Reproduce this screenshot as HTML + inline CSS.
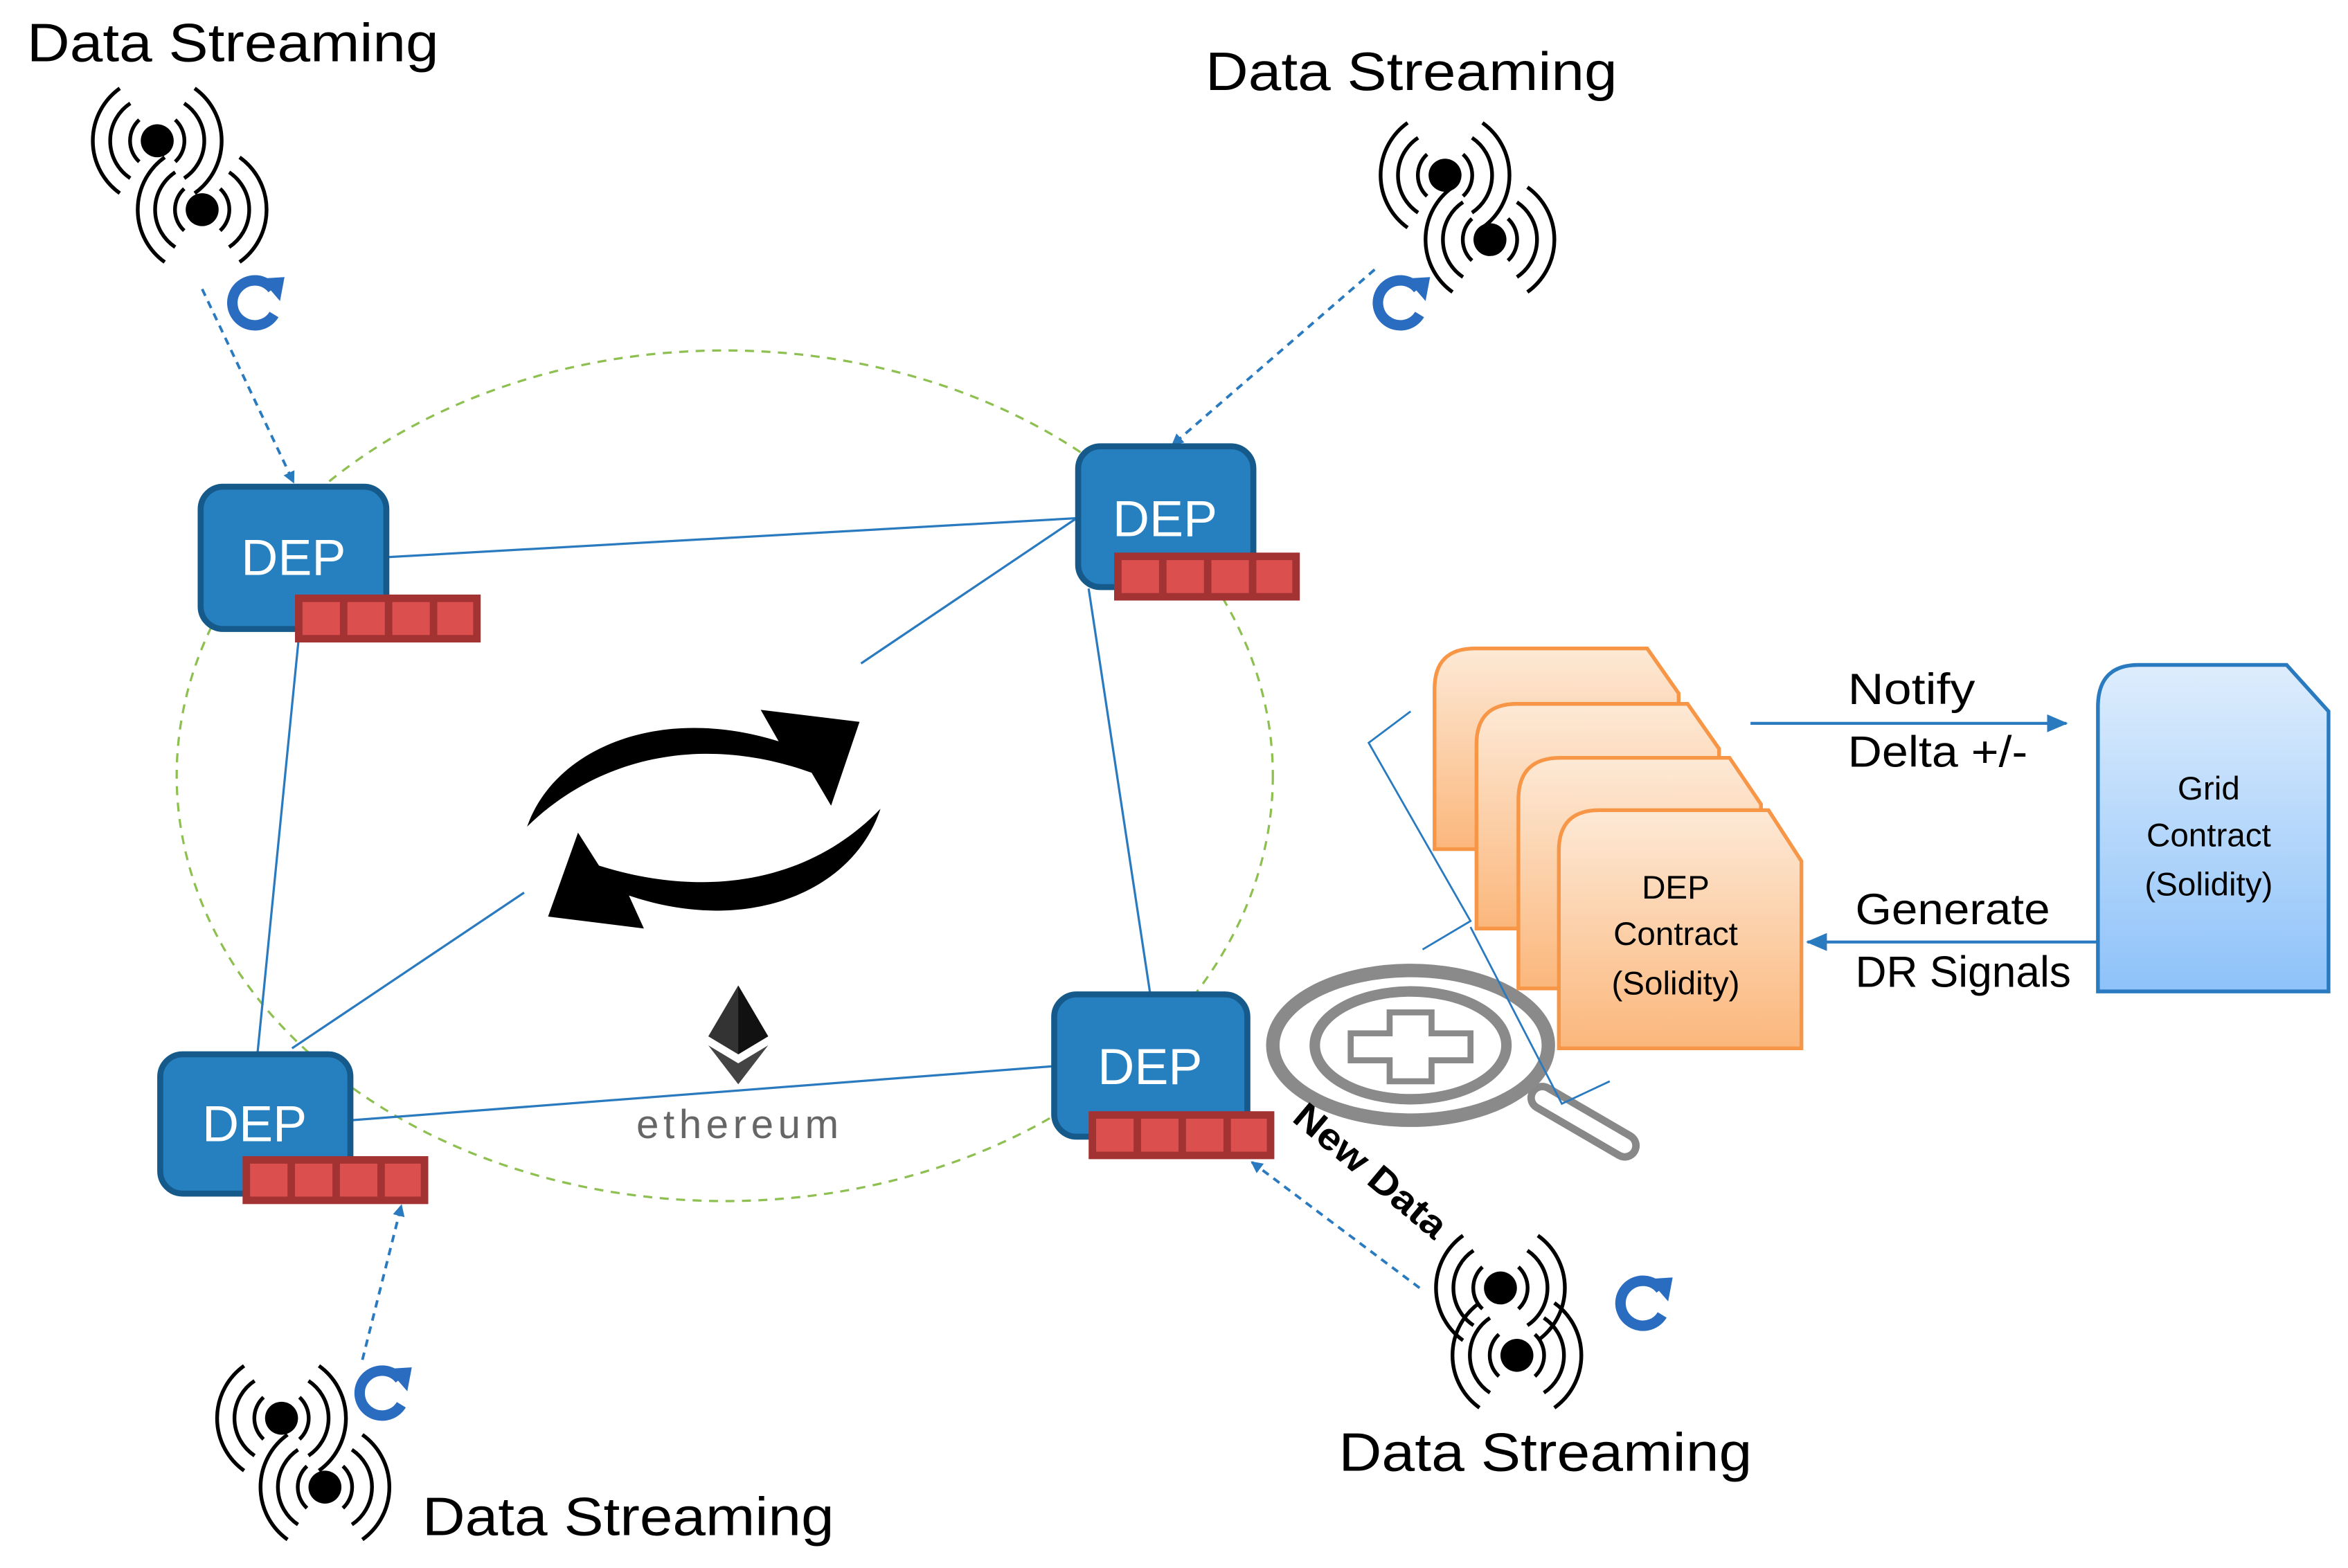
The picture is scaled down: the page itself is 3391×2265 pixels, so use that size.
<!DOCTYPE html>
<html><head><meta charset="utf-8"><style>
html,body{margin:0;padding:0;background:#fff;}
svg{display:block;}
text{font-family:"Liberation Sans",sans-serif;}
</style></head><body>
<svg width="3391" height="2265" viewBox="0 0 1568 1047" preserveAspectRatio="none" xmlns="http://www.w3.org/2000/svg">
<defs>
<marker id="ah" markerWidth="8" markerHeight="8" refX="7" refY="4" orient="auto" markerUnits="userSpaceOnUse"><path d="M0,0 L8,4 L0,8 Z" fill="#2a7ac0"/></marker>
<marker id="ah2" markerWidth="14" markerHeight="12" refX="13" refY="6" orient="auto" markerUnits="userSpaceOnUse"><path d="M0,0 L14,6 L0,12 Z" fill="#2a7ac0"/></marker>
<linearGradient id="og" x1="0" y1="0" x2="0" y2="1"><stop offset="0" stop-color="#fde9d6"/><stop offset="1" stop-color="#fbb77c"/></linearGradient>
<linearGradient id="bg" x1="0" y1="0" x2="0" y2="1"><stop offset="0" stop-color="#deedfd"/><stop offset="1" stop-color="#8ec2f9"/></linearGradient>
<g id="dot">
<circle r="11" fill="#000"/>
<g fill="none" stroke="#000" stroke-width="2.5">
<path d="M-12,-14 A19,19 0 0 0 -12,14"/><path d="M12,-14 A19,19 0 0 1 12,14"/>
<path d="M-18,-25 A30,30 0 0 0 -18,25"/><path d="M18,-25 A30,30 0 0 1 18,25"/>
<path d="M-25,-35 A43,43 0 0 0 -25,35"/><path d="M25,-35 A43,43 0 0 1 25,35"/>
</g></g>
<g id="ref">
<path d="M12,-9 A15,15 0 1 0 13,8" fill="none" stroke="#2a6cc0" stroke-width="7"/>
<path d="M4,-16 L20,-17 L17,-1 Z" fill="#2a6cc0"/>
</g>
<g id="q">
<rect x="0" y="0" width="124" height="32" fill="#a33232"/>
<rect x="5" y="5" width="25" height="22" fill="#dc4f4f"/>
<rect x="35" y="5" width="25" height="22" fill="#dc4f4f"/>
<rect x="65" y="5" width="25" height="22" fill="#dc4f4f"/>
<rect x="95" y="5" width="24" height="22" fill="#dc4f4f"/>
</g>
</defs>

<ellipse cx="484" cy="518" rx="366" ry="284" fill="none" stroke="#8dc050" stroke-width="1.5" stroke-dasharray="6,5"/>

<g stroke="#2a7ac0" stroke-width="1.5" fill="none">
<line x1="259" y1="372" x2="719" y2="346"/>
<line x1="200" y1="421" x2="172" y2="703"/>
<line x1="727" y1="393" x2="768" y2="663"/>
<line x1="235" y1="748" x2="703" y2="712"/>
<line x1="719" y1="346" x2="575" y2="443"/>
<line x1="195" y1="700" x2="350" y2="596"/>
</g>

<g stroke="#2a7ac0" stroke-width="1.8" fill="none" stroke-dasharray="5,4">
<line x1="135" y1="193" x2="196" y2="322" marker-end="url(#ah)"/>
<line x1="918" y1="180" x2="783" y2="297" marker-end="url(#ah)"/>
<line x1="242" y1="908" x2="268" y2="805" marker-end="url(#ah)"/>
<line x1="948" y1="860" x2="836" y2="776" marker-end="url(#ah)"/>
</g>

<path d="M352,552 C370,500 440,470 520,495 L508,474 L574,482 L555,538 L542,516 C470,490 400,505 352,552 Z" fill="#000"/>
<path d="M588,540 C570,595 500,625 420,598 L430,620 L366,612 L386,556 L400,578 C470,600 540,590 588,540 Z" fill="#000"/>

<path d="M493,658 L513,692 L493,704 L473,692 Z" fill="#333"/>
<path d="M493,658 L513,692 L493,704 Z" fill="#111"/>
<path d="M473,698 L493,710 L513,698 L493,724 Z" fill="#444"/>
<text x="494" y="760" font-size="27" fill="#666" text-anchor="middle" letter-spacing="3">ethereum</text>

<g>
<rect x="134" y="325" width="124" height="95" rx="15" fill="#2680c0" stroke="#155a8a" stroke-width="4"/>
<text x="196" y="384" font-size="34" fill="#fff" text-anchor="middle">DEP</text>
<use href="#q" x="197" y="397"/>
<rect x="720" y="298" width="117" height="94" rx="15" fill="#2680c0" stroke="#155a8a" stroke-width="4"/>
<text x="778" y="358" font-size="34" fill="#fff" text-anchor="middle">DEP</text>
<use href="#q" x="744" y="369"/>
<rect x="107" y="704" width="127" height="93" rx="15" fill="#2680c0" stroke="#155a8a" stroke-width="4"/>
<text x="170" y="762" font-size="34" fill="#fff" text-anchor="middle">DEP</text>
<use href="#q" x="162" y="772"/>
<rect x="704" y="664" width="129" height="95" rx="15" fill="#2680c0" stroke="#155a8a" stroke-width="4"/>
<text x="768" y="724" font-size="34" fill="#fff" text-anchor="middle">DEP</text>
<use href="#q" x="727" y="742"/>
</g>

<use href="#dot" x="105" y="94"/><use href="#dot" x="135" y="140"/>
<use href="#dot" x="965" y="117"/><use href="#dot" x="995" y="160"/>
<use href="#dot" x="188" y="947"/><use href="#dot" x="217" y="993"/>
<use href="#dot" x="1002" y="860"/><use href="#dot" x="1013" y="905"/>

<use href="#ref" x="170" y="202"/>
<use href="#ref" x="935" y="202"/>
<use href="#ref" x="255" y="930"/>
<use href="#ref" x="1097" y="870"/>

<g font-size="36" fill="#000">
<text x="18" y="41" textLength="275" lengthAdjust="spacingAndGlyphs">Data Streaming</text>
<text x="805" y="60" textLength="275" lengthAdjust="spacingAndGlyphs">Data Streaming</text>
<text x="282" y="1025" textLength="275" lengthAdjust="spacingAndGlyphs">Data Streaming</text>
<text x="894" y="982" textLength="276" lengthAdjust="spacingAndGlyphs">Data Streaming</text>
</g>

<g>
<line x1="1030" y1="733" x2="1085" y2="765" stroke="#888" stroke-width="20" stroke-linecap="round"/>
<line x1="1030" y1="733" x2="1085" y2="765" stroke="#fff" stroke-width="10" stroke-linecap="round"/>
<ellipse cx="942" cy="698" rx="92" ry="50" fill="#fff" stroke="#8a8a8a" stroke-width="9"/>
<ellipse cx="942" cy="698" rx="64" ry="36" fill="#fff" stroke="#8a8a8a" stroke-width="7"/>
<path d="M928,676 h28 v14 h26 v18 h-26 v14 h-28 v-14 h-26 v-18 h26 Z" fill="#fff" stroke="#8a8a8a" stroke-width="4"/>
</g>
<text x="0" y="0" font-size="25" font-weight="bold" fill="#000" transform="translate(862,748) rotate(40)" textLength="125" lengthAdjust="spacingAndGlyphs">New Data</text>

<g stroke="#f79646" stroke-width="2.5" fill="url(#og)">
<path d="M958,460 Q958,433 985,433 L1100,433 L1121,463 L1121,567 L958,567 Z"/>
<path d="M986,497 Q986,470 1013,470 L1127,470 L1148,500 L1148,620 L986,620 Z"/>
<path d="M1014,534 Q1014,506 1042,506 L1155,506 L1176,537 L1176,660 L1014,660 Z"/>
<path d="M1041,568 Q1041,541 1068,541 L1181,541 L1203,575 L1203,700 L1041,700 Z"/>
</g>
<g font-size="22" fill="#000" text-anchor="middle">
<text x="1119" y="600">DEP</text>
<text x="1119" y="631">Contract</text>
<text x="1119" y="664">(Solidity)</text>
</g>

<g stroke="#2a7ac0" stroke-width="1.3" fill="none">
<polyline points="942,475 914,496 982,615 950,634"/>
<polyline points="982,619 1043,737 1075,722"/>
</g>

<path d="M1401,472 Q1401,444 1428,444 L1527,444 L1555,475 L1555,662 L1401,662 Z" fill="url(#bg)" stroke="#2a7ac0" stroke-width="2.5"/>
<g font-size="22" fill="#000" text-anchor="middle">
<text x="1475" y="534">Grid</text>
<text x="1475" y="565">Contract</text>
<text x="1475" y="598">(Solidity)</text>
</g>

<line x1="1169" y1="483" x2="1380" y2="483" stroke="#2a7ac0" stroke-width="2" marker-end="url(#ah2)"/>
<line x1="1401" y1="629" x2="1207" y2="629" stroke="#2a7ac0" stroke-width="2" marker-end="url(#ah2)"/>
<g font-size="29" fill="#000">
<text x="1234" y="470" textLength="85" lengthAdjust="spacingAndGlyphs">Notify</text>
<text x="1234" y="512" textLength="120" lengthAdjust="spacingAndGlyphs">Delta +/-</text>
<text x="1239" y="617" textLength="130" lengthAdjust="spacingAndGlyphs">Generate</text>
<text x="1239" y="659" textLength="144" lengthAdjust="spacingAndGlyphs">DR Signals</text>
</g>
</svg>
</body></html>
